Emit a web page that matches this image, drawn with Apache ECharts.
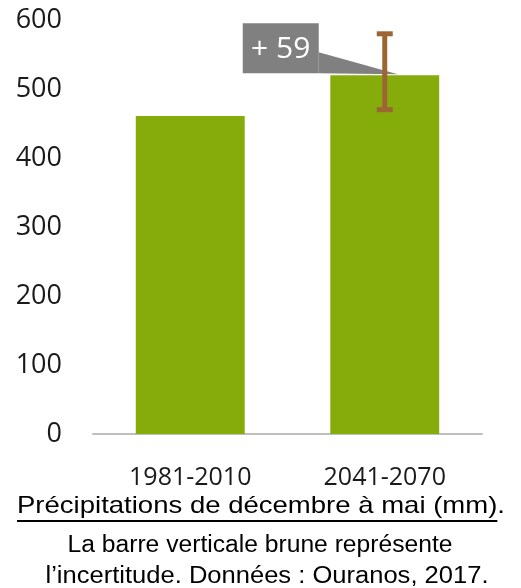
<!DOCTYPE html>
<html>
<head>
<meta charset="utf-8">
<script src="https://cdn.jsdelivr.net/npm/echarts@6/dist/echarts.min.js"></script>
<style>
  html, body { margin: 0; padding: 0; background: #fff; }
  #main { width: 521px; height: 588px; }
</style>
</head>
<body>
<div id="main"></div>
<script>
var periods = ['1981-2010', '2041-2070'];
var precip = [461, 520];
// uncertainty range for the future period: [category index, low, high]
var uncertainty = [[1, 470, 580]];
var yTicks = [0, 100, 200, 300, 400, 500, 600];

var titleText = 'Précipitations de décembre à mai (mm)';
var noteLines = ['La barre verticale brune représente', 'l\u2019incertitude. Données : Ouranos, 2017.'];

var chartDom = document.getElementById('main');
var myChart = echarts.init(chartDom);

var diff = precip[1] - precip[0];
var diffLabel = (diff >= 0 ? '+ ' : '- ') + Math.abs(diff);

// the caption text in the source is a bit wide, so measure and scale sideways
var ctx = document.createElement('canvas').getContext('2d');
var titleFont = '24px "Liberation Sans"';
ctx.font = titleFont;
var titleW = ctx.measureText(titleText).width;
var dotW = ctx.measureText('.').width;
var titleX = 17;
var titleScale = 488 / (titleW + dotW);

var noteFont = '23px "Liberation Sans"';
ctx.font = noteFont;
var note1Scale = 385 / ctx.measureText(noteLines[0]).width;
var note2Scale = 443 / ctx.measureText(noteLines[1]).width;

var option = {
  animation: false,
  grid: { left: 93, right: 39, top: 20, bottom: 154 },
  xAxis: {
    type: 'category',
    data: periods,
    axisLine: { lineStyle: { color: '#bfbfbf', width: 2 } },
    axisTick: { show: false },
    axisLabel: {
      color: '#1a1a1a',
      fontFamily: 'Open Sans',
      fontSize: 25,
      margin: 31
    }
  },
  yAxis: {
    type: 'value',
    min: yTicks[0],
    max: yTicks[yTicks.length - 1],
    interval: 100,
    splitLine: { show: false },
    axisLine: { show: false },
    axisTick: { show: false },
    axisLabel: {
      color: '#1a1a1a',
      fontFamily: 'Open Sans',
      fontSize: 27,
      margin: 31
    }
  },
  series: [
    {
      type: 'bar',
      data: precip,
      barWidth: '56%',
      itemStyle: { color: '#86ac0b' },
      z: 2
    },
    {
      type: 'custom',
      data: uncertainty,
      z: 5,
      renderItem: function (params, api) {
        var x = api.value(0);
        var lo = api.coord([x, api.value(1)]);
        var hi = api.coord([x, api.value(2)]);
        var top = api.coord([x, precip[x]]);
        var cap = 8;
        var brown = '#9c6633';
        return {
          type: 'group',
          children: [
            {
              type: 'polygon',
              shape: { points: [[top[0] - 66, top[1] - 23], [top[0] + 13, top[1] - 1], [top[0] - 66, top[1] - 2]] },
              style: { fill: '#808080' }
            },
            {
              type: 'rect',
              shape: { x: top[0] - 142, y: top[1] - 52, width: 76, height: 50 },
              style: { fill: '#808080' }
            },
            {
              type: 'text',
              style: {
                x: top[0] - 104, y: top[1] - 26,
                text: diffLabel,
                fill: '#fff',
                font: '30px "Open Sans"',
                align: 'center',
                verticalAlign: 'middle'
              }
            },
            {
              type: 'line',
              shape: { x1: lo[0], y1: lo[1], x2: hi[0], y2: hi[1] },
              style: { stroke: brown, lineWidth: 5 }
            },
            {
              type: 'line',
              shape: { x1: hi[0] - cap, y1: hi[1], x2: hi[0] + cap, y2: hi[1] },
              style: { stroke: brown, lineWidth: 5 }
            },
            {
              type: 'line',
              shape: { x1: lo[0] - cap, y1: lo[1], x2: lo[0] + cap, y2: lo[1] },
              style: { stroke: brown, lineWidth: 5 }
            }
          ]
        };
      }
    }
  ],
  graphic: [
    {
      type: 'text',
      x: titleX, y: 506, scaleX: titleScale,
      style: { text: titleText + '.', font: titleFont, fill: '#000', verticalAlign: 'middle' }
    },
    {
      type: 'line',
      shape: { x1: titleX, y1: 521, x2: titleX + titleW * titleScale, y2: 521 },
      style: { stroke: '#000', lineWidth: 2 }
    },
    {
      type: 'text',
      x: 260, y: 546, scaleX: note1Scale,
      style: { text: noteLines[0], font: noteFont, fill: '#000', align: 'center', verticalAlign: 'middle' }
    },
    {
      type: 'text',
      x: 267, y: 577, scaleX: note2Scale,
      style: { text: noteLines[1], font: noteFont, fill: '#000', align: 'center', verticalAlign: 'middle' }
    }
  ]
};

myChart.setOption(option);
</script>
</body>
</html>
